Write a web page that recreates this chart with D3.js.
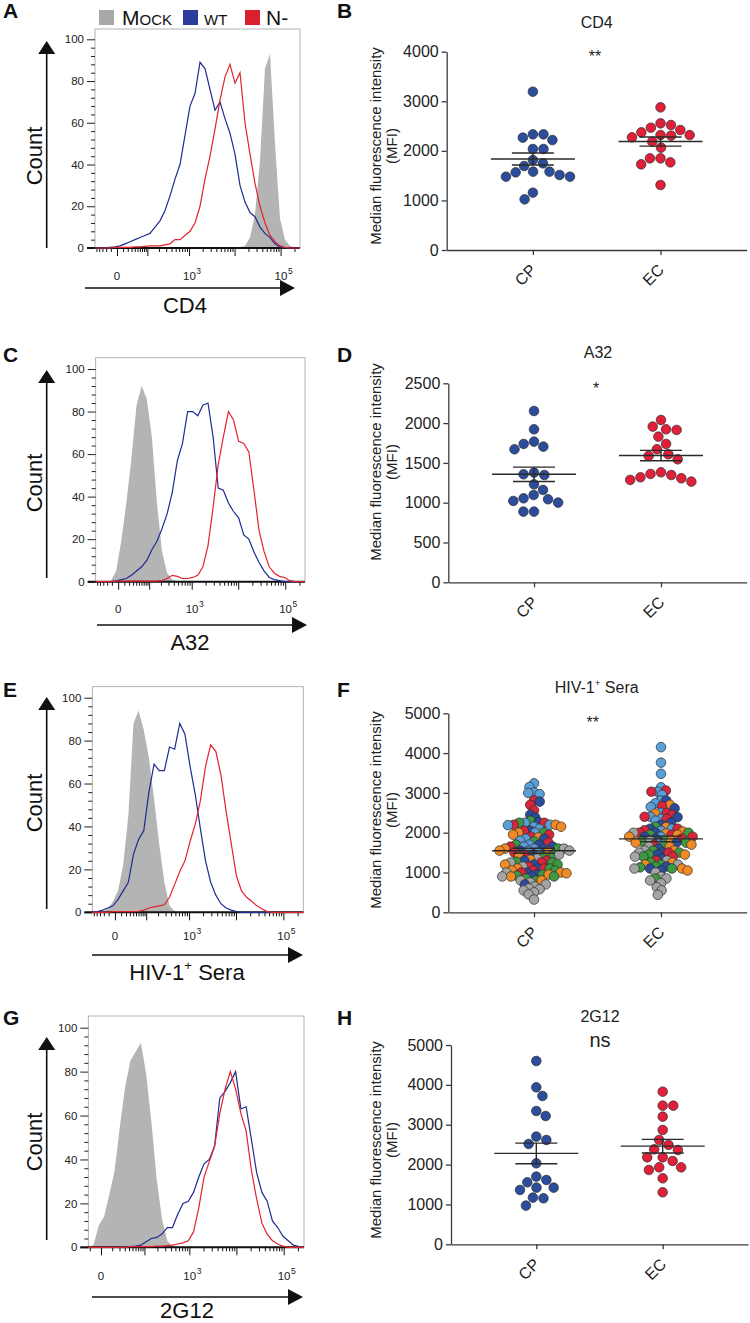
<!DOCTYPE html>
<html>
<head>
<meta charset="utf-8">
<script src="https://cdn.jsdelivr.net/npm/d3@7/dist/d3.min.js"></script>
<style>
  body { margin: 0; background: #fff; }
  text { font-family: "Liberation Sans", Arial, sans-serif; }
</style>
</head>
<body>
<svg id="fig" width="750" height="1323"></svg>
<script>
// ---------------------------------------------------------------
// Histograms: counts per display channel (42 channels across plot)
// ---------------------------------------------------------------
const cd4Mock = [0,0,0,0,0,0,0,0,0,0,0,0,0,0,0,0,0,0,0,0,0,0,0,0,0,0,0,0,0,0.5,1,5,16,42,86,93,50,14,4,1,0.3,0];
const cd4WT   = [0,0,0,0.3,0.5,1,2,3,4,5,6,7,10,13,18,25,33,40,54,68,74,89,86,76,66,70,62,55,45,30,22,17,15,10,7,5,2,0.5,0,0,0,0];
const cd4N    = [0,0,0,0,0.3,0.3,0.3,0.3,0.5,0.5,0.8,1,1,1,1.5,2,4,4,6,8,12,20,33,44,57,71,82,88,79,84,60,45,31,20,12,6,3,1,0.3,0,0,0];

const a32Mock = [0,0,0,0.3,5,19,37,58,83,92,86,68,37,14,4,1,0.3,0,0,0,0,0,0,0,0,0,0,0,0,0,0,0,0,0,0,0,0,0,0,0,0,0];
const a32WT   = [0,0,0,0,0.3,1,1.5,3,5,7,10,15,19,25,32,42,57,65,80,80,78,83,84,68,44,43,37,33,30,22,20,14,9,5,2,1,0.5,0,0,0,0,0];
const a32N    = [0,0,0,0,0.3,0.3,0.3,0.3,0.3,0.3,0.3,0.3,0.3,0.5,1.5,3,2.5,1.5,1.5,2,3,7,17,35,55,68,80,76,66,65,61,43,24,14,7,4,2.5,2,0.5,0,0,0];

const seraMock = [0,0,0.3,1.5,5,10,22,45,88,94,85,72,53,32,14,3,0.5,0,0,0,0,0,0,0,0,0,0,0,0,0,0,0,0,0,0,0,0,0,0,0,0,0];
const seraWT   = [0,0.3,1,2,3,6,10,14,27,34,38,56,69,66,66,77,76,88,83,68,55,39,24,14,8,4,2,1,0.3,0,0,0,0,0,0,0,0,0,0,0,0,0];
const seraN    = [0,0,0,0,0.3,0.3,0.3,0.3,0.3,0.5,1,2,2.5,3,3.5,7,13,19,24,33,41,52,68,78,75,64,47,32,17,10,7,5,3,1.5,0.3,0,0,0,0,0,0,0];

const g12Mock = [0,1,10,14,24,35,55,73,85,89,93,79,57,31,13,3,0.5,0,0,0,0,0,0,0,0,0,0,0,0,0,0,0,0,0,0,0,0,0,0,0,0,0];
const g12WT   = [0,0,0,0,0,0,0,0,0.3,0.5,1,2.5,4,4.5,6,9,9,15,20,21,25,32,38,40,46,68,71,75,80,63,64,49,34,25,21,12,9,5,3,1,0.3,0];
const g12N    = [0,0,0,0,0,0,0,0,0.3,0.3,0.3,0.3,0.3,0.5,0.5,0.8,1,1.5,2,3,7,18,32,39,46,61,72,80,72,61,53,35,22,11,6,3,1.5,0.5,0,0,0,0];

const countTicks = [0, 20, 40, 60, 80, 100];
const countMinor = [4,8,12,16,24,28,32,36,44,48,52,56,64,68,72,76,84,88,92,96];
const fluorMajor = [0, 100, 1000, 10000, 100000];
const fluorDecades = [10, 100, 1000, 10000, 100000];
const fluorMults = [1, 2, 3, 4, 5, 6, 7, 8, 9];
const fluorNegMinor = [-10, -20, -30, -40, -50];
const fluorLabels = [{ v: 0, base: "0", exp: "" }, { v: 1000, base: "10", exp: "3" }, { v: 100000, base: "10", exp: "5" }];

const legendNames = ["Mock", "wt", "N-"];
const legendColors = ["#a8a8a8", "#2a3c9c", "#d9202f"];

// ---------------------------------------------------------------
// Dot plots: MFI per donor
// ---------------------------------------------------------------
const groups = ["CP", "EC"];

const cd4CP = [3193,2333,2266,2218,2333,2037,2037,1815,1748,1694,1580,1566,1479,1479,1513,1580,1156,1022];
const cd4EC = [2877,2521,2420,2373,2467,2555,2319,2272,2306,2319,2185,2064,1849,1768,1728,1849,1311];

const a32CP = [2152,1922,1767,1704,1671,1738,1378,1348,1357,1231,1160,1097,1043,1001,1022,1055,888,888];
const a32EC = [2039,1914,1956,1922,1830,1738,1671,1587,1545,1608,1382,1348,1307,1265,1286,1319,1361];

const g12CP = [4599,3938,3721,3219,3344,2617,2517,2701,2032,1697,1555,1421,1363,1421,1614,1171,1154,970];
const g12EC = [3829,3478,3478,3202,2868,2617,2492,2366,2383,2182,2090,2182,1931,1865,1931,1656,1304];

// HIV-1+ sera: one array per serum (colour), CP donors then EC donors
const seraColors = ["#5b9fd9", "#2b4c9b", "#d8253b", "#3d9a43", "#f08a26", "#a4a4a4"];
const seraCP = [
  [3240,3000,2970,3010,3150,2200,2190,2150,2250,1700,1600,1550,1500,1800,2100,1650,2000,1850],
  [2780,2450,2380,2260,2050,1850,1700,1650,1600,1550,1450,1300,1200,1100,1000,950,900,700],
  [2810,2700,2560,2250,2200,2050,1950,1900,1750,1650,1500,1450,1300,1250,1150,1100,1050,1000],
  [2300,2250,2000,1780,1700,1600,1450,1400,1270,1250,1200,1050,950,920,900,850,800,1100],
  [2200,2150,2000,1950,1880,1600,1550,1520,1400,1320,1200,1050,1000,980,950,900,800,1100],
  [1600,1550,1450,1350,1250,1150,1000,900,800,750,700,650,600,580,550,500,450,320]
];
const seraEC = [
  [4150,3760,3480,3140,3030,2950,2810,2740,2650,2500,2400,2350,2300,2100,1900,1750,2050],
  [2810,2610,2390,2250,2200,2100,2000,1900,1850,1750,1600,1500,1450,1350,1150,1100,1050],
  [3060,3030,2670,2500,2450,2400,2350,2100,2060,2000,1950,1900,1850,1700,1500,1400,1300],
  [2150,2000,1950,1800,1780,1750,1650,1550,1500,1450,1400,1250,1200,1150,1130,1100,850],
  [2700,2480,2140,2030,1980,1950,1900,1800,1750,1700,1650,1550,1450,1250,1200,1100,1050],
  [2000,1800,1650,1550,1500,1400,1300,1200,1100,1000,900,850,800,730,630,550,440]
];

const ticksCD4 = [0, 1000, 2000, 3000, 4000];
const ticksA32 = [0, 500, 1000, 1500, 2000, 2500];
const ticks5k = [0, 1000, 2000, 3000, 4000, 5000];

const blueDot = "#2c4d9c";
const redDot = "#e21f38";

// ---------------------------------------------------------------
const svg = d3.select("#fig");
svg.append("rect").attr("width", 750).attr("height", 1323).attr("fill", "#fff");

const panelLetters = [
  { t: "A", x: 3, y: 18 }, { t: "B", x: 337, y: 18 },
  { t: "C", x: 3, y: 362 }, { t: "D", x: 337, y: 362 },
  { t: "E", x: 3, y: 697 }, { t: "F", x: 337, y: 697 },
  { t: "G", x: 3, y: 1025 }, { t: "H", x: 337, y: 1025 }
];
svg.selectAll("text.letter").data(panelLetters).join("text")
  .attr("class", "letter").attr("x", d => d.x).attr("y", d => d.y)
  .attr("font-size", 21).attr("font-weight", "bold").attr("fill", "#111")
  .text(d => d.t);

function arrowUp(g, x, yTip, yBottom) {
  g.append("line").attr("x1", x).attr("x2", x).attr("y1", yBottom).attr("y2", yTip + 10)
    .attr("stroke", "#111").attr("stroke-width", 1.6);
  g.append("path").attr("d", `M${x},${yTip} L${x - 8.5},${yTip + 13} L${x + 8.5},${yTip + 13} Z`).attr("fill", "#111");
}
function arrowRight(g, y, x0, xTip) {
  g.append("line").attr("x1", x0).attr("x2", xTip - 10).attr("y1", y).attr("y2", y)
    .attr("stroke", "#111").attr("stroke-width", 1.6);
  g.append("path").attr("d", `M${xTip},${y} L${xTip - 15},${y - 8} L${xTip - 15},${y + 8} Z`).attr("fill", "#111");
}
function addSeraTitle(sel) {
  sel.append("tspan").text("HIV-1");
  sel.append("tspan").attr("font-size", "0.6em").attr("dy", "-0.75em").text("+");
  sel.append("tspan").attr("dy", "0.45em").text(" Sera");
}

// --------------------------- histograms ---------------------------
const histPanels = [
  { mock: cd4Mock, wt: cd4WT, n: cd4N, title: "CD4", L: 95, R: 300, top: 29, y100: 39.3, y0: 248, c: 28, dom: [-56, 263600],
    countY: 156, arrowTip: 41, arrowBottom: 248, labelY: 280, axArrowY: 288, axArrowX0: 85, axArrowTip: 295, titleX: 185, titleY: 313 },
  { mock: a32Mock, wt: a32WT, n: a32N, title: "A32", L: 95.7, R: 305, top: 357.7, y100: 369, y0: 581.7, c: 28, dom: [-56, 263600],
    countY: 483, arrowTip: 370, arrowBottom: 578, labelY: 613, axArrowY: 625, axArrowX0: 97, axArrowTip: 307, titleX: 190, titleY: 650 },
  { mock: seraMock, wt: seraWT, n: seraN, title: "sera", L: 92.3, R: 303.3, top: 686.7, y100: 697.7, y0: 912.3, c: 28, dom: [-56, 263600],
    countY: 803, arrowTip: 697, arrowBottom: 909, labelY: 940, axArrowY: 955, axArrowX0: 92, axArrowTip: 303, titleX: 187, titleY: 980 },
  { mock: g12Mock, wt: g12WT, n: g12N, title: "2G12", L: 88.3, R: 304, top: 1016, y100: 1027.7, y0: 1247.3, c: 13.75, dom: [-11.8, 268800],
    countY: 1142, arrowTip: 1037, arrowBottom: 1240, labelY: 1280, axArrowY: 1297, axArrowX0: 92, axArrowTip: 303, titleX: 187, titleY: 1318 }
];

histPanels.forEach(p => {
  const g = svg.append("g");
  const xc = d3.scaleLinear().domain([0, p.mock.length - 1]).range([p.L, p.R]);
  const xf = d3.scaleSymlog().constant(p.c).domain(p.dom).range([p.L, p.R]);
  const y = d3.scaleLinear().domain([0, 100]).range([p.y0, p.y100]);

  g.append("rect").attr("x", p.L).attr("y", p.top).attr("width", p.R - p.L).attr("height", p.y0 - p.top)
    .attr("fill", "none").attr("stroke", "#a0a0a0").attr("stroke-width", 0.8);

  const area = d3.area().x((d, i) => xc(i)).y0(y(0)).y1(d => y(d));
  g.append("path").datum(p.mock).attr("d", area).attr("fill", "#b4b4b4");

  // count axis
  const yMinor = d3.axisLeft(y).tickValues(countMinor).tickSize(4).tickFormat("");
  const yMajor = d3.axisLeft(y).tickValues(countTicks).tickSize(8).tickPadding(3);
  [yMinor, yMajor].forEach(ax => {
    const a = g.append("g").attr("transform", `translate(${p.L},0)`).call(ax);
    a.select(".domain").remove();
    a.selectAll("line").attr("stroke", "#222").attr("stroke-width", 1);
    a.selectAll("text").attr("font-family", "DejaVu Sans").attr("font-size", 11.5).attr("fill", "#222");
  });

  // fluorescence axis
  const minor = fluorDecades.flatMap(d => fluorMults.map(m => m * d)).concat(fluorNegMinor)
    .filter(v => v > p.dom[0] && v < p.dom[1] && !fluorMajor.includes(v));
  const xMinor = d3.axisBottom(xf).tickValues(minor).tickSize(4).tickFormat("");
  const xMajor = d3.axisBottom(xf).tickValues(fluorMajor).tickSize(8).tickFormat("");
  [xMinor, xMajor].forEach(ax => {
    const a = g.append("g").attr("transform", `translate(0,${p.y0})`).call(ax);
    a.select(".domain").remove();
    a.selectAll("line").attr("stroke", "#111").attr("stroke-width", 1);
  });
  g.append("line").attr("x1", p.L - 8).attr("x2", p.R).attr("y1", p.y0).attr("y2", p.y0)
    .attr("stroke", "#111").attr("stroke-width", 2);

  fluorLabels.forEach(l => {
    const t = g.append("text").attr("x", xf(l.v)).attr("y", p.labelY).attr("text-anchor", "middle")
      .attr("font-family", "DejaVu Sans").attr("font-size", 11.5).attr("fill", "#222");
    t.append("tspan").text(l.base);
    if (l.exp) t.append("tspan").attr("font-size", 8.5).attr("dy", -6).attr("dx", 0.5).text(l.exp);
    if (l.exp) t.attr("dx", 3);
  });

  const line = d3.line().x((d, i) => xc(i)).y(d => y(d));
  g.append("path").datum(p.wt).attr("d", line).attr("fill", "none").attr("stroke", "#1d2c90").attr("stroke-width", 1.2);
  g.append("path").datum(p.n).attr("d", line).attr("fill", "none").attr("stroke", "#e3222e").attr("stroke-width", 1.2);

  arrowUp(g, 46.7, p.arrowTip, p.arrowBottom);
  g.append("text").attr("transform", `translate(41.5,${p.countY}) rotate(-90)`).attr("text-anchor", "middle")
    .attr("font-size", 22).attr("fill", "#111").text("Count");

  arrowRight(g, p.axArrowY, p.axArrowX0, p.axArrowTip);
  const tt = g.append("text").attr("x", p.titleX).attr("y", p.titleY).attr("text-anchor", "middle")
    .attr("font-size", 22).attr("fill", "#111");
  if (p.title === "sera") addSeraTitle(tt); else tt.text(p.title);
});

// legend (panel A)
const legX = [99, 183, 245];
const legTextX = [122, 204, 266];
legendNames.forEach((name, i) => {
  svg.append("rect").attr("x", legX[i]).attr("y", 10).attr("width", 15).attr("height", 15).attr("fill", legendColors[i]);
  svg.append("text").attr("x", legTextX[i]).attr("y", 25).attr("font-size", 21)
    .attr("font-variant", "small-caps").attr("fill", "#111").text(name);
});

// --------------------------- dot plots ---------------------------
// beeswarm: each dot goes to the free spot nearest the column centre
function swarm(items, y, cx, dist) {
  const pts = items.map(o => Object.assign({}, o, { py: y(o.v) })).sort((a, b) => a.py - b.py);
  const placed = [];
  pts.forEach((p, k) => {
    const blocks = [];
    placed.forEach(q => {
      const dy = Math.abs(q.py - p.py);
      if (dy < dist) {
        const w = Math.sqrt(dist * dist - dy * dy);
        blocks.push([q.px - w, q.px + w]);
      }
    });
    const cands = [cx].concat(blocks.flat());
    const free = cands.filter(c => blocks.every(b => c <= b[0] + 1e-6 || c >= b[1] - 1e-6));
    const side = k % 2 ? 1 : -1;
    free.sort((a, b) => (Math.abs(a - cx) - Math.abs(b - cx)) || side * (a - b));
    p.px = free[0];
    placed.push(p);
  });
  return pts;
}

const dotPanels = [
  { cp: cd4CP.map(v => ({ v, c: blueDot })), ec: cd4EC.map(v => ({ v, c: redDot })), ticks: ticksCD4, max: 4000,
    axisX: 446.7, xEnd: 746.7, yTop: 51.7, y0: 250, title: "CD4", titleX: 596.7, titleY: 28,
    sig: "**", sigX: 595, sigY: 62, sigSize: 16, labelY: 146, dist: 10.6 },
  { cp: a32CP.map(v => ({ v, c: blueDot })), ec: a32EC.map(v => ({ v, c: redDot })), ticks: ticksA32, max: 2500,
    axisX: 448.3, xEnd: 746.7, yTop: 383.3, y0: 582.3, title: "A32", titleX: 598, titleY: 358,
    sig: "*", sigX: 596, sigY: 394, sigSize: 16, labelY: 462, dist: 10.6 },
  { cp: seraCP.flatMap((arr, k) => arr.map(v => ({ v, c: seraColors[k] }))),
    ec: seraEC.flatMap((arr, k) => arr.map(v => ({ v, c: seraColors[k] }))), ticks: ticks5k, max: 5000,
    axisX: 448.3, xEnd: 746.7, yTop: 713.3, y0: 912.3, title: "sera", titleX: 596.7, titleY: 693.3,
    sig: "**", sigX: 592.7, sigY: 728, sigSize: 16, labelY: 810, dist: 5.8 },
  { cp: g12CP.map(v => ({ v, c: blueDot })), ec: g12EC.map(v => ({ v, c: redDot })), ticks: ticks5k, max: 5000,
    axisX: 451, xEnd: 748, yTop: 1045, y0: 1244.3, title: "2G12", titleX: 600, titleY: 1021.7,
    sig: "ns", sigX: 600, sigY: 1047, sigSize: 20, labelY: 1140, dist: 10.6 }
];

dotPanels.forEach(p => {
  const g = svg.append("g");
  const y = d3.scaleLinear().domain([0, p.max]).range([p.y0, p.yTop]);
  const x = d3.scalePoint().domain(groups).range([p.axisX, p.xEnd]).padding(0.675);

  const ya = g.append("g").attr("transform", `translate(${p.axisX},0)`)
    .call(d3.axisLeft(y).tickValues(p.ticks).tickFormat(d3.format("d")).tickSize(5).tickSizeOuter(0).tickPadding(3));
  const xa = g.append("g").attr("transform", `translate(0,${p.y0})`)
    .call(d3.axisBottom(x).tickSize(5).tickSizeOuter(0));
  [ya, xa].forEach(a => {
    a.select(".domain").attr("stroke", "#3a3a3a").attr("stroke-width", 1.3);
    a.selectAll("line").attr("stroke", "#3a3a3a").attr("stroke-width", 1.3);
    a.selectAll("text").attr("font-family", "Liberation Sans, Arial, sans-serif").attr("font-size", 16).attr("fill", "#222");
  });
  xa.selectAll("text").attr("transform", "rotate(-45)").attr("text-anchor", "end")
    .attr("x", -12).attr("y", 12).attr("dy", "0.35em");

  const yl = g.append("text").attr("transform", `translate(381,${p.labelY}) rotate(-90)`)
    .attr("text-anchor", "middle").attr("font-size", 15).attr("fill", "#222");
  yl.append("tspan").attr("x", 0).attr("y", 0).text("Median fluorescence intensity");
  yl.append("tspan").attr("x", 0).attr("y", 16).text("(MFI)");

  const tt = g.append("text").attr("x", p.titleX).attr("y", p.titleY).attr("text-anchor", "middle")
    .attr("font-size", 16).attr("fill", "#222");
  if (p.title === "sera") addSeraTitle(tt); else tt.text(p.title);
  g.append("text").attr("x", p.sigX).attr("y", p.sigY).attr("text-anchor", "middle")
    .attr("font-size", p.sigSize).attr("fill", "#222").text(p.sig);

  [["CP", p.cp], ["EC", p.ec]].forEach(([grp, items]) => {
    const cx = x(grp);
    const pts = swarm(items, y, cx, p.dist);
    g.append("g").selectAll("circle").data(pts).join("circle")
      .attr("cx", d => d.px).attr("cy", d => d.py).attr("r", 4.8)
      .attr("fill", d => d.c).attr("stroke", "#2b2b2b").attr("stroke-width", 0.7);

    const vals = items.map(d => d.v);
    const m = d3.mean(vals);
    const se = d3.deviation(vals) / Math.sqrt(vals.length);
    const seg = (x1, x2, y1, y2) => g.append("line").attr("x1", x1).attr("x2", x2).attr("y1", y1).attr("y2", y2)
      .attr("stroke", "#2a2a2a").attr("stroke-width", 1.4);
    seg(cx - 42, cx + 42, y(m), y(m));
    seg(cx - 21, cx + 21, y(m + se), y(m + se));
    seg(cx - 21, cx + 21, y(m - se), y(m - se));
    seg(cx, cx, y(m + se), y(m - se));
  });
});
</script>
</body>
</html>
